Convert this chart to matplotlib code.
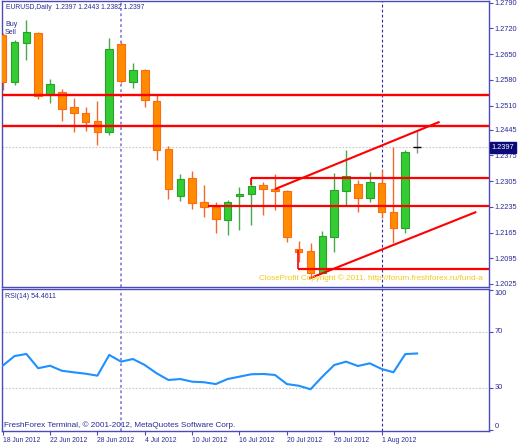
import matplotlib
matplotlib.use("Agg")
import matplotlib.pyplot as plt
import matplotlib.transforms as mtransforms

plt.rcParams['font.family'] = ['Liberation Sans', 'DejaVu Sans']

# daily EURUSD bars, 18 Jun 2012 .. 6 Aug 2012
opens = [1.2702, 1.2574, 1.2681, 1.2707, 1.2539, 1.2546, 1.2505, 1.2491, 1.2467, 1.2439,
         1.2678, 1.2575, 1.2607, 1.2523, 1.2391, 1.2265, 1.2312, 1.2247, 1.2235, 1.2199,
         1.2265, 1.2269, 1.2293, 1.2282, 1.2279, 1.2119, 1.2115, 1.2056, 1.2152, 1.2279,
         1.2296, 1.2258, 1.2299, 1.2222, 1.2177, 1.2397]
highs = [1.2708, 1.2688, 1.2743, 1.2709, 1.2583, 1.2555, 1.2530, 1.2506, 1.2523, 1.2693,
         1.2683, 1.2627, 1.2609, 1.2539, 1.2400, 1.2323, 1.2332, 1.2294, 1.2247, 1.2253,
         1.2288, 1.2315, 1.2303, 1.2323, 1.2281, 1.2141, 1.2137, 1.2170, 1.2326, 1.2389,
         1.2308, 1.2329, 1.2336, 1.2398, 1.2390, 1.2443]
lows = [1.2553, 1.2566, 1.2634, 1.2528, 1.2517, 1.2468, 1.2439, 1.2442, 1.2403, 1.2430,
        1.2571, 1.2557, 1.2507, 1.2362, 1.2256, 1.2252, 1.2228, 1.2208, 1.2163, 1.2158,
        1.2172, 1.2185, 1.2212, 1.2226, 1.2140, 1.2086, 1.2043, 1.2054, 1.2113, 1.2240,
        1.2222, 1.2249, 1.2204, 1.2136, 1.2163, 1.2382]
closes = [1.2574, 1.2684, 1.2710, 1.2537, 1.2568, 1.2501, 1.2491, 1.2466, 1.2439, 1.2664,
          1.2577, 1.2607, 1.2525, 1.2389, 1.2283, 1.2310, 1.2246, 1.2235, 1.2201, 1.2247,
          1.2270, 1.2291, 1.2283, 1.2278, 1.2152, 1.2113, 1.2054, 1.2156, 1.2281, 1.2318,
          1.2258, 1.2302, 1.2222, 1.2177, 1.2385, 1.2397]

rsi = [45.7, 52.6, 54.1, 43.9, 45.7, 42.1, 41.0, 40.0, 38.6, 53.4,
       48.6, 50.5, 46.2, 40.3, 35.5, 36.2, 34.3, 33.9, 32.6, 36.2,
       37.9, 39.6, 39.8, 39.1, 32.6, 31.4, 28.9, 37.9, 46.2, 48.6,
       45.5, 47.4, 43.4, 41.0, 54.0, 54.4611]

date_bars = [0, 4, 8, 12, 16, 20, 24, 28, 32]
date_labels = ['18 Jun 2012', '22 Jun 2012', '28 Jun 2012', '4 Jul 2012', '10 Jul 2012',
               '16 Jul 2012', '20 Jul 2012', '26 Jul 2012', '1 Aug 2012']
price_ticks = [1.2790, 1.2720, 1.2650, 1.2580, 1.2510, 1.2445, 1.2375, 1.2305,
               1.2235, 1.2165, 1.2095, 1.2025]
month_bars = [10, 32]

# drawn objects: full-width levels, partial levels (start bar, level, anchor) and channel
levels_full = [1.2540, 1.2455]
levels_part = [(17.3, 1.2237, None), (21.0, 1.2314, 1.2293), (24.95, 1.2066, 1.2118)]
channel = [((23.0, 36.9), (1.2283, 1.2466)), ((25.9, 40.0), (1.2040, 1.2221))]

W, H = 518, 444
fig = plt.figure(figsize=(W / 100, H / 100), dpi=100)
navy = '#2a2a96'
axis_col = '#4a4ab8'


def px_axes(x0, y0, x1, y1):
    return fig.add_axes([x0 / W, 1 - y1 / H, (x1 - x0) / W, (y1 - y0) / H])


ax = px_axes(1.5, 1, 488.5, 287)
ax2 = px_axes(1.5, 289, 488.5, 431)

for a in (ax, ax2):
    a.set_xlim(-0.1, 41.03)
    for s in a.spines.values():
        s.set_color(axis_col)
        s.set_linewidth(1)
    a.yaxis.tick_right()
    a.tick_params(axis='y', direction='out', length=3, width=0.8, color=axis_col,
                  labelsize=5.3, labelcolor=navy, pad=1.5)
    for b in month_bars:
        a.axvline(b, color='#8888d8' if b == 10 else '#2c2ca0',
                  lw=1.3 if b == 10 else 0.8,
                  ls=(0, (1.5, 1.5)) if b == 10 else (0, (2.5, 2)), zorder=1)

ax.set_ylim(1.20168, 1.27946)
ax.set_yticks(price_ticks)
ax.set_yticklabels(['%.4f' % p for p in price_ticks])
ax.set_xticks([])

# bid line
ax.axhline(closes[-1], color='#c8c8c8', lw=0.8, ls=(0, (1.5, 1.5)), zorder=1)

green, green_edge, green_wick = '#33cc33', '#26a326', '#4aa84a'
orange, orange_edge, orange_wick = '#ff8c00', '#ff6a10', '#f06a30'
n = len(opens)
for i in range(n - 1):
    o, h, l, c = opens[i], highs[i], lows[i], closes[i]
    up = c >= o
    ax.vlines(i, l, h, color=green_wick if up else orange_wick, lw=1.0, zorder=2)
    ax.bar(i, abs(c - o), bottom=min(o, c), width=0.64,
           color=green if up else orange, edgecolor=green_edge if up else orange_edge,
           lw=0.8, zorder=3)
# current bar
i = n - 1
ax.vlines(i, lows[i], highs[i], color='#8c8c8c', lw=1.0, zorder=2)
ax.hlines(closes[i], i - 0.33, i + 0.33, color='black', lw=1.0, zorder=3)

for lv in levels_full:
    ax.axhline(lv, color='#ff0000', lw=1.7, zorder=4)
for x0, lv, anchor in levels_part:
    ax.hlines(lv, x0, 41.03, color='#ff0000', lw=1.6, zorder=4)
    if anchor is not None:
        ax.vlines(x0, min(lv, anchor), max(lv, anchor), color='#ff0000', lw=1.2, zorder=4)
for xs, ys in channel:
    ax.plot(xs, ys, color='#ff0000', lw=1.5, zorder=4, solid_capstyle='butt')

# price box
trans = mtransforms.blended_transform_factory(ax.transAxes, ax.transData)
ax.text(1.006, closes[-1], '%.4f' % closes[-1], transform=trans, fontsize=5.3,
        color='white', va='center', ha='left',
        bbox=dict(boxstyle='square,pad=0.25', fc='#0a0a78', ec='#0a0a78'), zorder=6)

fig.text(6 / W, 1 - 7.5 / H, 'EURUSD,Daily  1.2397 1.2443 1.2382 1.2397', fontsize=4.85,
         color=navy, va='center', ha='left')
fig.text(5 / W, 1 - 24 / H, 'Buy', fontsize=5.0, color=navy, va='center', ha='left')
fig.text(5 / W, 1 - 32.5 / H, 'Sell', fontsize=5.0, color=navy, va='center', ha='left')
fig.text(483 / W, 1 - 278.5 / H,
         'CloseProfit Copyright \u00a9 2011, http://forum.freshforex.ru/fund-a',
         fontsize=5.85, color='#f2cc1a', va='center', ha='right', zorder=7)

# RSI panel
ax2.set_ylim(-0.93, 100.5)
ax2.plot(range(n), rsi, color='#1e90ff', lw=1.5, zorder=3)
for lv in (30, 70):
    ax2.axhline(lv, color='#c8c8c8', lw=0.8, ls=(0, (1.5, 1.5)), zorder=1)
ax2.set_yticks([0, 30, 70, 100])
ax2.set_yticklabels(['0', '30', '70', '100'])
for lab, va in zip(ax2.get_yticklabels(), ['bottom', 'center', 'center', 'top']):
    lab.set_va(va)
ax2.set_xticks(date_bars)
ax2.set_xticklabels(date_labels)
ax2.tick_params(axis='x', direction='out', length=3, width=0.8, color=axis_col,
                labelsize=4.9, labelcolor=navy, pad=1)
for lab in ax2.get_xticklabels():
    lab.set_ha('left')

fig.text(5 / W, 1 - 296.5 / H, 'RSI(14) 54.4611', fontsize=5.0, color=navy,
         va='center', ha='left')
fig.text(3.5 / W, 1 - 425.5 / H,
         'FreshForex Terminal, \u00a9 2001-2012, MetaQuotes Software Corp.',
         fontsize=5.85, color=navy, va='center', ha='left')

fig.savefig('out.png', dpi=100)
